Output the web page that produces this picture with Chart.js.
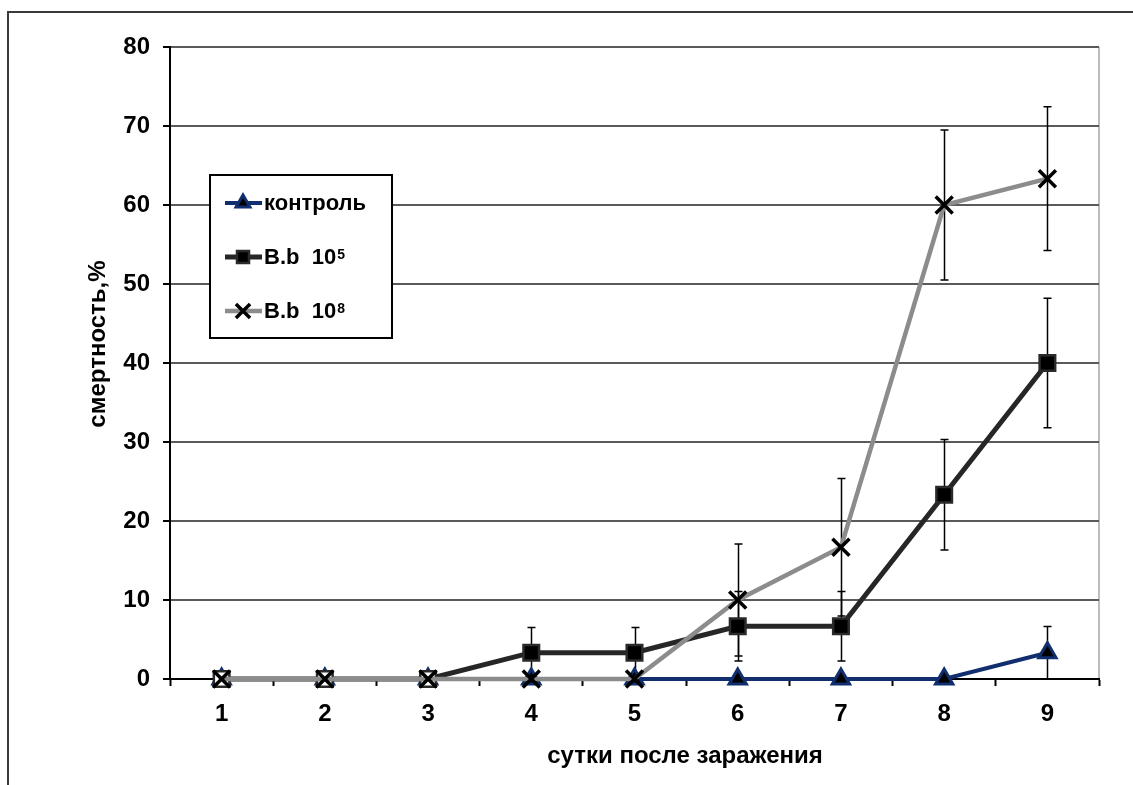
<!DOCTYPE html>
<html>
<head>
<meta charset="utf-8">
<title>смертность</title>
<script src="https://cdn.jsdelivr.net/npm/chart.js@4/dist/chart.umd.min.js"></script>
<style>
  html, body { margin: 0; padding: 0; background: #ffffff; }
  canvas { display: block; }
</style>
</head>
<body>
<canvas id="chart" width="1133" height="785"></canvas>
<script>
// Days after infection
const days = ['1', '2', '3', '4', '5', '6', '7', '8', '9'];

// Mortality, %
const control = [0, 0, 0, 0, 0, 0, 0, 0, 3.33];
const bb5     = [0, 0, 0, 3.33, 3.33, 6.67, 6.67, 23.33, 40];
const bb8     = [0, 0, 0, 0, 0, 10, 16.67, 60, 63.33];

// Error bar half-widths
const controlErr = [0, 0, 0, 0, 0, 0, 0, 0, 3.33];
const bb5Err     = [0, 0, 0, 3.2, 3.2, 4.4, 4.4, 7.0, 8.2];
const bb8Err     = [0, 0, 0, 0, 0, 7.1, 8.7, 9.5, 9.1];

// Series names (base text + superscript exponent) and axis titles
const seriesBase = ['контроль', 'B.b  10', 'B.b  10'];
const seriesSup  = ['', '5', '8'];
const xTitle = 'сутки после заражения';
const yTitle = 'смертность,%';

const yMin = 0, yMax = 80, yStep = 10;

const FONT = "'Liberation Sans', Arial, sans-serif";
const NAVY = '#112f6e';
const SUP_DIGITS = { '5': '⁵', '8': '⁸' };

// Outer frame and plot-area edge
const framePlugin = {
  id: 'frame',
  beforeDraw(chart) {
    const ctx = chart.ctx;
    ctx.save();
    ctx.fillStyle = '#ffffff';
    ctx.fillRect(0, 0, chart.width, chart.height);
    ctx.strokeStyle = '#3a3a3a';
    ctx.lineWidth = 2;
    ctx.beginPath();
    ctx.moveTo(8, chart.height);
    ctx.lineTo(8, 12);
    ctx.lineTo(chart.width, 12);
    ctx.stroke();
    const a = chart.chartArea;
    ctx.strokeStyle = '#a6a6a6';
    ctx.lineWidth = 1.5;
    ctx.beginPath();
    ctx.moveTo(a.right, a.top);
    ctx.lineTo(a.right, a.bottom);
    ctx.stroke();
    ctx.restore();
  }
};

// Vertical error bars with caps, taken from the *Err arrays
const errorBarPlugin = {
  id: 'errorBars',
  beforeDatasetsDraw(chart) {
    const ctx = chart.ctx;
    const xs = chart.scales.x, ys = chart.scales.y;
    ctx.save();
    ctx.strokeStyle = '#000000';
    ctx.lineWidth = 1.5;
    chart.data.datasets.forEach(ds => {
      const errs = ds.errors || [];
      ds.data.forEach((v, i) => {
        const e = errs[i];
        if (!e) return;
        const x = Math.round(xs.getPixelForValue(i)) + 0.5;
        const yT = ys.getPixelForValue(v + e);
        const yB = ys.getPixelForValue(Math.max(v - e, 0));
        ctx.beginPath();
        ctx.moveTo(x, yT); ctx.lineTo(x, yB);
        ctx.moveTo(x - 4, yT); ctx.lineTo(x + 4, yT);
        ctx.moveTo(x - 4, yB); ctx.lineTo(x + 4, yB);
        ctx.stroke();
      });
    });
    ctx.restore();
  }
};

// Axis titles and the boxed legend
const labelsPlugin = {
  id: 'labels',
  afterDraw(chart) {
    const ctx = chart.ctx;
    ctx.save();
    ctx.fillStyle = '#000000';
    ctx.font = 'bold 24px ' + FONT;
    ctx.textAlign = 'center';
    ctx.textBaseline = 'middle';
    ctx.fillText(xTitle, 685, 756);
    ctx.save();
    ctx.translate(98, 344);
    ctx.rotate(-Math.PI / 2);
    ctx.fillText(yTitle, 0, 0);
    ctx.restore();

    // legend box
    const box = { l: 210, t: 175, r: 392, b: 338 };
    ctx.fillStyle = '#ffffff';
    ctx.fillRect(box.l, box.t, box.r - box.l, box.b - box.t);
    ctx.strokeStyle = '#000000';
    ctx.lineWidth = 2;
    ctx.strokeRect(box.l, box.t, box.r - box.l, box.b - box.t);

    const rows = [203, 257, 311];
    chart.data.datasets.forEach((ds, i) => {
      const y = rows[i];
      ctx.save();
      ctx.strokeStyle = ds.borderColor;
      ctx.lineWidth = ds.borderWidth;
      ctx.beginPath();
      ctx.moveTo(225, y); ctx.lineTo(262, y);
      ctx.stroke();
      ctx.fillStyle = ds.legendFill;
      ctx.strokeStyle = ds.pointBorderColor;
      ctx.lineWidth = ds.pointBorderWidth;
      Chart.helpers.drawPoint(ctx, {
        pointStyle: ds.pointStyle,
        radius: ds.legendRadius,
        borderWidth: ds.pointBorderWidth,
        rotation: 0
      }, 243, y);
      ctx.restore();

      ctx.fillStyle = '#000000';
      ctx.font = 'bold 22px ' + FONT;
      ctx.textAlign = 'left';
      ctx.textBaseline = 'middle';
      const base = seriesBase[i];
      ctx.fillText(base, 264, y + 1);
      if (seriesSup[i]) {
        const w = ctx.measureText(base).width;
        ctx.font = 'bold 14px ' + FONT;
        ctx.textBaseline = 'top';
        ctx.fillText(seriesSup[i], 264 + w + 1, y - 9);
      }
    });
    ctx.restore();
  }
};

const ctx = document.getElementById('chart').getContext('2d');
new Chart(ctx, {
  type: 'line',
  data: {
    labels: days,
    datasets: [
      {
        label: seriesBase[0],
        data: control,
        errors: controlErr,
        borderColor: NAVY,
        borderWidth: 4,
        pointStyle: 'triangle',
        pointRadius: 10,
        pointBackgroundColor: '#000000',
        pointBorderColor: NAVY,
        pointBorderWidth: 3,
        legendRadius: 8,
        legendFill: '#000000',
        order: 3,
        clip: false
      },
      {
        label: seriesBase[1] + SUP_DIGITS[seriesSup[1]],
        data: bb5,
        errors: bb5Err,
        borderColor: '#262626',
        borderWidth: 5,
        pointStyle: 'rect',
        pointRadius: 11,
        pointBackgroundColor: ['#ffffff', '#ffffff', '#ffffff', '#000000', '#000000', '#000000', '#000000', '#000000', '#000000'],
        pointBorderColor: '#2a2a2a',
        pointBorderWidth: 2.5,
        legendRadius: 8.5,
        legendFill: '#000000',
        order: 2,
        clip: false
      },
      {
        label: seriesBase[2] + SUP_DIGITS[seriesSup[2]],
        data: bb8,
        errors: bb8Err,
        borderColor: '#8c8c8c',
        borderWidth: 4.5,
        pointStyle: 'crossRot',
        pointRadius: 12,
        pointBackgroundColor: '#000000',
        pointBorderColor: '#000000',
        pointBorderWidth: 3.5,
        legendRadius: 10,
        legendFill: '#000000',
        order: 1,
        clip: false
      }
    ]
  },
  options: {
    responsive: false,
    animation: false,
    devicePixelRatio: 1,
    layout: { padding: { top: 47, right: 34, left: 0, bottom: 0 } },
    plugins: {
      legend: { display: false },
      tooltip: { enabled: false },
      title: { display: false }
    },
    elements: { line: { tension: 0 } },
    scales: {
      x: {
        type: 'category',
        offset: true,
        afterFit(scale) { scale.height = 106; },
        grid: {
          offset: true,
          drawOnChartArea: false,
          drawTicks: true,
          tickLength: 7,
          tickColor: '#000000',
          tickWidth: 2
        },
        border: { display: true, color: '#000000', width: 2 },
        ticks: {
          color: '#000000',
          font: { family: FONT, size: 24, weight: 'bold' },
          padding: 14,
          maxRotation: 0
        }
      },
      y: {
        min: yMin,
        max: yMax,
        afterFit(scale) { scale.width = 170; },
        grid: {
          color: '#5a5a5a',
          lineWidth: 2,
          drawTicks: true,
          tickLength: 7,
          tickColor: '#000000',
          tickWidth: 2
        },
        border: { display: true, color: '#000000', width: 2 },
        ticks: {
          stepSize: yStep,
          color: '#000000',
          font: { family: FONT, size: 24, weight: 'bold' },
          padding: 13
        }
      }
    }
  },
  plugins: [framePlugin, errorBarPlugin, labelsPlugin]
});
</script>
</body>
</html>
